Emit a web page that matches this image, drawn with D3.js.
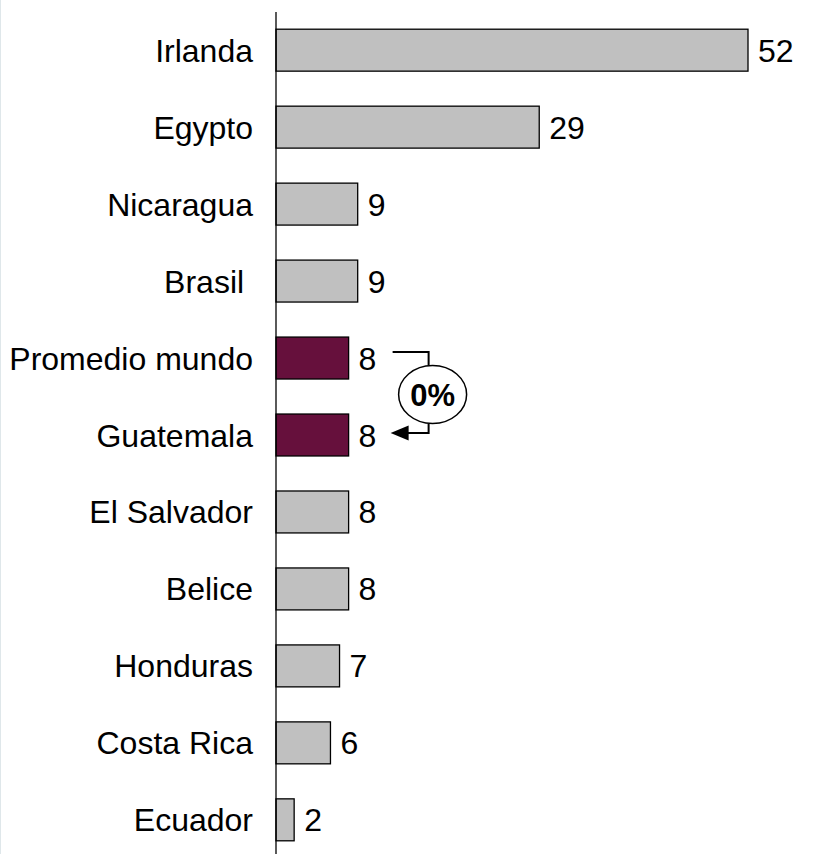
<!DOCTYPE html>
<html>
<head>
<meta charset="utf-8">
<script src="https://cdn.jsdelivr.net/npm/d3@7"></script>
<style>
  html, body { margin: 0; padding: 0; background: #fff; }
  svg { display: block; }
  text { font-family: Arial, "Liberation Sans", sans-serif; }
</style>
</head>
<body>
<svg id="chart" width="813" height="854"></svg>
<script>
const categories = ["Irlanda", "Egypto", "Nicaragua", "Brasil ", "Promedio mundo", "Guatemala", "El Salvador", "Belice", "Honduras", "Costa Rica", "Ecuador"];
const values = [52, 29, 9, 9, 8, 8, 8, 8, 7, 6, 2];
const highlighted = ["Promedio mundo", "Guatemala"];
const changeLabel = "0%";

const svg = d3.select("#chart");
const W = 813, H = 854;
const axisX = 276;
const fs = 32;

// faint left border
svg.append("line").attr("x1", 0.5).attr("x2", 0.5).attr("y1", 0).attr("y2", H)
  .attr("stroke", "#dfe7ea").attr("stroke-width", 1);

const y = d3.scaleBand().domain(categories).range([11.5, 858.5]).paddingInner(0.455).paddingOuter(0.23);
const x = d3.scaleLinear().domain([0, 52]).range([axisX, axisX + 472]);

const data = categories.map((c, i) => ({ c, v: values[i] }));

svg.append("g").selectAll("rect").data(data).join("rect")
  .attr("x", x(0))
  .attr("y", d => y(d.c))
  .attr("width", d => x(d.v) - x(0))
  .attr("height", y.bandwidth())
  .attr("fill", d => highlighted.includes(d.c) ? "#66103c" : "#c0c0c0")
  .attr("stroke", "#000").attr("stroke-width", 1.3);

// axis line
svg.append("line").attr("x1", axisX).attr("x2", axisX).attr("y1", 12).attr("y2", H)
  .attr("stroke", "#000").attr("stroke-width", 1.3);

// category labels
svg.append("g").selectAll("text").data(data).join("text")
  .attr("x", axisX - 23)
  .attr("y", d => y(d.c) + y.bandwidth() / 2)
  .attr("dy", "0.36em")
  .attr("text-anchor", "end")
  .style("white-space", "pre")
  .attr("font-size", fs)
  .attr("fill", "#000")
  .text(d => d.c);

// value labels
svg.append("g").selectAll("text").data(data).join("text")
  .attr("x", d => x(d.v) + 10)
  .attr("y", d => y(d.c) + y.bandwidth() / 2)
  .attr("dy", "0.36em")
  .attr("font-size", fs)
  .attr("fill", "#000")
  .text(d => d.v);

// change annotation between the two highlighted bars
const yA = y(highlighted[0]) + y.bandwidth() / 2 - 6;
const yB = y(highlighted[1]) + y.bandwidth() / 2 - 2;
const xStart = x(8) + 44;
const xV = x(8) + 80;
const cx = xV + 4, cy = (yA + yB) / 2 + 2;
const rx = 34, ry = 29;

svg.append("path")
  .attr("d", `M${xStart},${yA} H${xV} V${cy - ry}`)
  .attr("fill", "none").attr("stroke", "#000").attr("stroke-width", 2);
svg.append("path")
  .attr("d", `M${xV},${cy + ry} V${yB} H${xStart - 2 + 16}`)
  .attr("fill", "none").attr("stroke", "#000").attr("stroke-width", 2);
svg.append("path")
  .attr("d", `M${xStart - 2},${yB} l18,-7.5 v15 z`)
  .attr("fill", "#000");
svg.append("ellipse")
  .attr("cx", cx).attr("cy", cy).attr("rx", rx).attr("ry", ry)
  .attr("fill", "#fff").attr("stroke", "#000").attr("stroke-width", 1.5);
svg.append("text")
  .attr("x", cx).attr("y", cy).attr("dy", "0.36em")
  .attr("text-anchor", "middle")
  .attr("font-size", 31).attr("font-weight", "bold")
  .text(changeLabel);
</script>
</body>
</html>
